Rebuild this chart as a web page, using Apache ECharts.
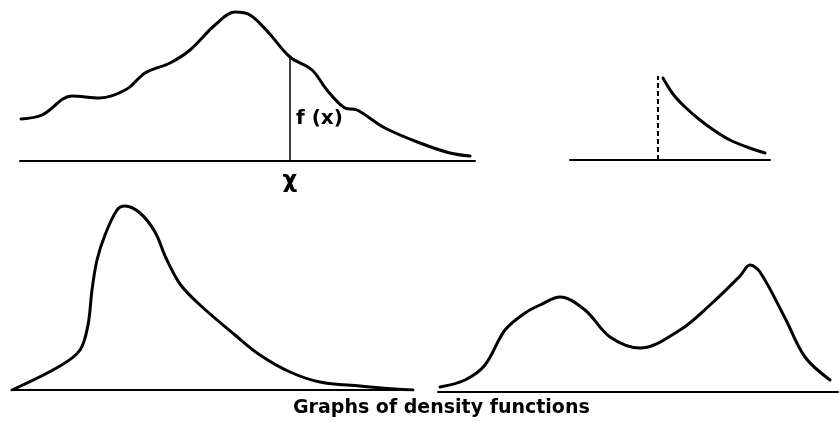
<!DOCTYPE html>
<html>
<head>
<meta charset="utf-8">
<script src="https://cdn.jsdelivr.net/npm/echarts@6/dist/echarts.min.js"></script>
<style>
  html, body { margin: 0; padding: 0; background: #fff; }
  #chart { width: 839px; height: 434px; }
</style>
</head>
<body>
<div id="chart"></div>
<script>
  // 四个密度曲线，单位：横向/纵向都按图上刻度读出
  const curveA = [
    [0.1, 4.2], [2.2, 4.6], [5.2, 6.5], [8.0, 6.3], [10.7, 7.2], [12.5, 8.8],
    [15.0, 9.8], [17.0, 11.1], [19.5, 13.6], [21.5, 14.9], [23.0, 14.6],
    [24.8, 12.9], [27.0, 10.4], [29.2, 9.1], [30.7, 7.1], [32.5, 5.3],
    [33.7, 5.1], [36.5, 3.3], [40.0, 1.8], [43.0, 0.8], [45.0, 0.5]
  ];
  const pointX = 27.0;       // χ 位置
  const pointFx = 10.4;      // f(x)
  const labelFx = "f (x)";
  const labelX = "χ";

  const curveB = [
    [9.3, 8.2], [10.3, 6.6], [11.5, 5.3], [13.0, 4.0], [14.5, 2.9],
    [16.0, 2.0], [17.7, 1.3], [19.5, 0.7]
  ];
  const originB = 8.8;       // 虚线位置
  const originBTop = 8.4;

  const curveC = [
    [0, 0], [4.8, 2.4], [6.8, 4.0], [7.6, 6.5], [8.0, 10.0], [8.5, 13.0],
    [9.3, 15.5], [10.5, 18.0], [11.3, 18.4], [12.8, 17.7], [14.3, 15.8],
    [15.4, 13.2], [16.8, 10.6], [18.8, 8.5], [22.3, 5.5], [24.8, 3.5],
    [27.8, 1.8], [30.8, 0.8], [34.8, 0.4], [38.3, 0.1], [40.1, 0]
  ];

  const curveD = [
    [0.2, 0.5], [2.7, 1.2], [4.7, 2.7], [6.7, 6.2], [8.7, 7.9], [10.2, 8.7],
    [12.2, 9.5], [14.7, 8.2], [17.2, 5.5], [20.2, 4.4], [24.2, 6.2],
    [27.2, 8.7], [30.2, 11.6], [31.2, 12.7], [32.2, 12.0], [34.7, 7.4],
    [36.7, 3.5], [39.2, 1.2]
  ];

  const caption = "Graphs of density functions";

  const INK = "#000";
  const FONT = "DejaVu Sans";

  function xAx(idx, max, extra) {
    return Object.assign({
      type: "value", gridIndex: idx, min: 0, max: max,
      axisLine: { show: true, onZero: true, lineStyle: { color: INK, width: 2 } },
      axisTick: { show: false },
      axisLabel: { show: false },
      splitLine: { show: false }
    }, extra || {});
  }
  function yAx(idx, max) {
    return {
      type: "value", gridIndex: idx, min: 0, max: max, show: false,
      splitLine: { show: false }
    };
  }
  function curve(idx, data) {
    return {
      type: "line", xAxisIndex: idx, yAxisIndex: idx, data: data,
      smooth: 0.35, symbol: "none",
      lineStyle: { color: INK, width: 3, cap: "round", join: "round" },
      silent: true
    };
  }

  const chart = echarts.init(document.getElementById("chart"), null, { renderer: "canvas" });
  chart.setOption({
    animation: false,
    backgroundColor: "#fff",
    title: {
      text: caption, left: 293, top: 399, padding: 0,
      textStyle: { fontFamily: FONT, fontWeight: "bold", fontSize: 19, color: INK }
    },
    grid: [
      { left: 20, top: 11, width: 455, height: 150 },
      { left: 570, top: 70, width: 200, height: 90 },
      { left: 12, top: 200, width: 401, height: 190 },
      { left: 438, top: 252, width: 400, height: 140 }
    ],
    xAxis: [
      xAx(0, 45.5, {
        axisLabel: {
          show: true, customValues: [pointX], formatter: () => labelX,
          color: INK, fontSize: 23, fontWeight: "bold", fontFamily: FONT, margin: 9
        }
      }),
      xAx(1, 20),
      xAx(2, 40.1),
      xAx(3, 40)
    ],
    yAxis: [yAx(0, 15), yAx(1, 9), yAx(2, 19), yAx(3, 14)],
    series: [
      curve(0, curveA),
      {
        type: "line", xAxisIndex: 0, yAxisIndex: 0,
        data: [[pointX, 0], [pointX, pointFx]], symbol: "none",
        lineStyle: { color: INK, width: 1.5 }, silent: true
      },
      {
        type: "scatter", xAxisIndex: 0, yAxisIndex: 0,
        data: [[pointX + 0.6, 4.2]], symbolSize: 0, silent: true,
        itemStyle: { opacity: 1 },
        label: {
          show: true, position: "right", distance: 0, formatter: labelFx,
          color: INK, fontSize: 20, fontWeight: "bold", fontFamily: FONT
        }
      },
      curve(1, curveB),
      {
        type: "line", xAxisIndex: 1, yAxisIndex: 1,
        data: [[originB, 0], [originB, originBTop]], symbol: "none",
        lineStyle: { color: INK, width: 2, type: [5, 3] }, silent: true
      },
      curve(2, curveC),
      curve(3, curveD)
    ]
  });
</script>
</body>
</html>
